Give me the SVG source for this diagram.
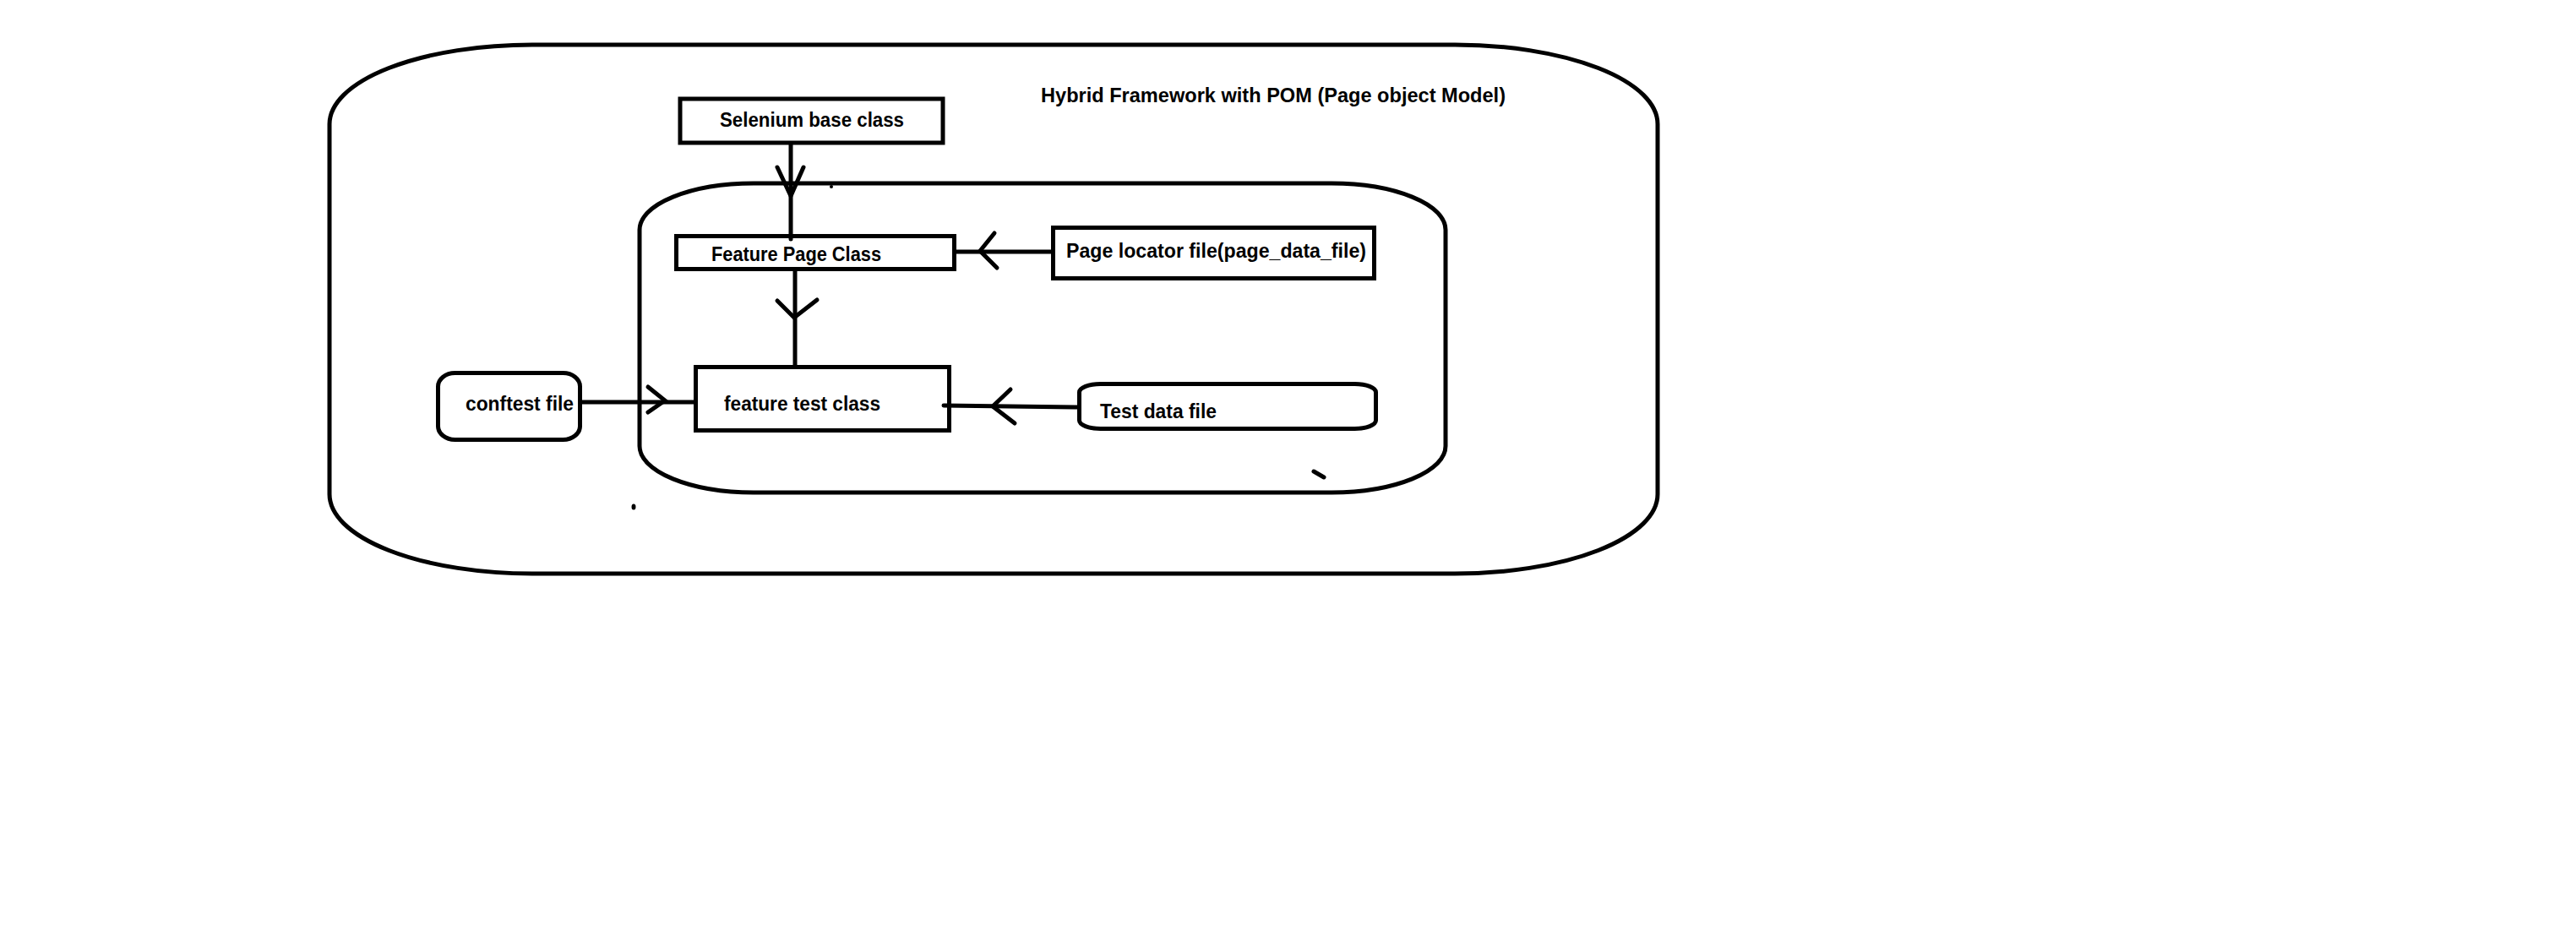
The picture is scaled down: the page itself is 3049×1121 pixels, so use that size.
<svg xmlns="http://www.w3.org/2000/svg" width="3049" height="1121" viewBox="0 0 3049 1121">
<style>
.sh{fill:none;stroke:#000;stroke-width:5}
.bx{fill:#fff;stroke:#000;stroke-width:5}
.ln{fill:none;stroke:#000;stroke-width:5;stroke-linecap:round;stroke-linejoin:round}
.ah{fill:none;stroke:#000;stroke-width:5;stroke-linecap:round;stroke-linejoin:miter}
text{font-family:"Liberation Sans",Arial,sans-serif;font-weight:bold;font-size:23px;fill:#000}
</style>
<rect x="0" y="0" width="3049" height="1121" fill="#fff"/>
<g id="outer-frame">
<path class="sh" d="M630 53 H1722 A240 94 0 0 1 1962 147 V585 A240 94 0 0 1 1722 679 H630 A240 94 0 0 1 390 585 V147 A240 94 0 0 1 630 53 Z"/>
<text x="1232" y="121" textLength="550" lengthAdjust="spacingAndGlyphs">Hybrid Framework with POM (Page object Model)</text>
</g>
<g id="inner-frame">
<path class="sh" d="M892 217 H1576 A135 55 0 0 1 1711 272 V528 A135 55 0 0 1 1576 583 H892 A135 55 0 0 1 757 528 V272 A135 55 0 0 1 892 217 Z"/>
</g>
<g id="selenium-base-class">
<rect class="bx" x="805" y="117" width="311" height="52"/>
<text x="852" y="150" textLength="218" lengthAdjust="spacingAndGlyphs">Selenium base class</text>
</g>
<g id="feature-page-class">
<rect class="bx" x="800.5" y="279.5" width="329" height="39"/>
<text x="842" y="309" textLength="201" lengthAdjust="spacingAndGlyphs">Feature Page Class</text>
</g>
<g id="page-locator-file">
<rect class="bx" x="1246.5" y="269.5" width="380" height="60"/>
<text x="1262" y="305" textLength="355" lengthAdjust="spacingAndGlyphs">Page locator file(page_data_file)</text>
</g>
<g id="feature-test-class">
<rect class="bx" x="823.5" y="434.5" width="300" height="75"/>
<text x="857" y="486" textLength="185" lengthAdjust="spacingAndGlyphs">feature test class</text>
</g>
<g id="conftest-file">
<rect class="bx" x="518.5" y="441.5" width="168" height="79" rx="20" ry="16"/>
<text x="551" y="486" textLength="128" lengthAdjust="spacingAndGlyphs">conftest file</text>
</g>
<g id="test-data-file">
<rect class="bx" x="1277.5" y="454.5" width="351" height="53" rx="25" ry="10"/>
<text x="1302" y="495" textLength="138" lengthAdjust="spacingAndGlyphs">Test data file</text>
</g>
<g id="connectors">
<line class="ln" x1="936" y1="171" x2="936" y2="283"/>
<polyline class="ah" points="920,198 936,232 951,198"/>
<line class="ln" x1="1244" y1="298" x2="1132" y2="298"/>
<polyline class="ah" points="1177,276 1160,297 1180,317"/>
<line class="ln" x1="941" y1="321" x2="941" y2="432"/>
<polyline class="ah" points="920,356 940,376 967,355"/>
<line class="ln" x1="689" y1="476" x2="821" y2="476"/>
<polyline class="ah" points="767,458 787,474 767,488"/>
<line class="ln" x1="1275" y1="482" x2="1117" y2="480"/>
<polyline class="ah" points="1196,461 1175,481 1201,501"/>
</g>
<g id="marks">
<ellipse cx="750" cy="600" rx="2.5" ry="3.5" fill="#000"/>
<line class="ln" x1="1555" y1="558" x2="1567" y2="565" stroke-width="4"/>
<circle cx="984" cy="221" r="2" fill="#000"/>
</g>
</svg>
